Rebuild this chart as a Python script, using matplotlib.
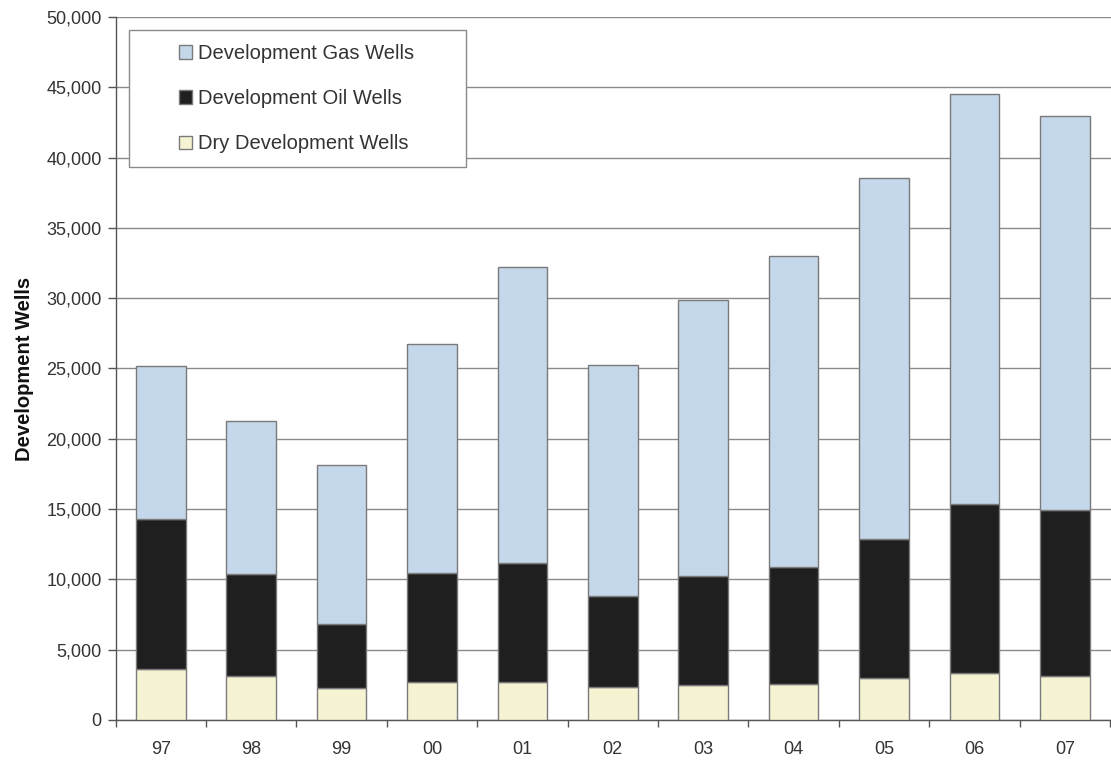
import matplotlib.pyplot as plt
import numpy as np
from matplotlib.patches import Rectangle

plt.rcParams.update({'font.size': 13})
plt.rc("font", family=["Liberation Sans", "DejaVu Sans"])

years = ['97', '98', '99', '00', '01', '02', '03', '04', '05', '06', '07']
dry_wells = [3630, 3130, 2280, 2700, 2700, 2370, 2490, 2580, 2960, 3320, 3110]
oil_wells = [10670, 7250, 4550, 7750, 8470, 6450, 7750, 8300, 9910, 12040, 11830]
gas_wells = [10880, 10880, 11310, 16290, 21050, 16430, 19630, 22120, 25670, 29160, 28020]

series_names = ['Development Gas Wells', 'Development Oil Wells', 'Dry Development Wells']
c_gas, c_oil, c_dry = '#c5d7ea', '#1f1f1f', '#f6f3d3'
edge = '#7a7a7a'

fig = plt.figure(figsize=(11.11, 7.61), dpi=100)
ax = fig.add_axes([115.5 / 1111, 41 / 761, 1 - 115.5 / 1111, 703 / 761])

x = np.arange(len(years))
dry = np.array(dry_wells)
oil = np.array(oil_wells)
gas = np.array(gas_wells)
w = 0.55
b_dry = ax.bar(x, dry, width=w, color=c_dry, edgecolor=edge, linewidth=1, zorder=3)
b_oil = ax.bar(x, oil, width=w, bottom=dry, color=c_oil, edgecolor=edge, linewidth=1, zorder=3)
b_gas = ax.bar(x, gas, width=w, bottom=dry + oil, color=c_gas, edgecolor=edge, linewidth=1, zorder=3)

ax.set_xlim(-0.5, 10.51)
ax.set_ylim(0, 50000)
ax.set_yticks(np.arange(0, 50001, 5000))
ax.set_yticklabels([f'{v:,}' for v in range(0, 50001, 5000)], color='#333333')
ax.yaxis.grid(True, color='#8a8a8a', linewidth=1, zorder=0)
ax.set_axisbelow(True)

ax.set_xticks(x)
ax.set_xticklabels(years, color='#333333')
ax.set_xticks(np.arange(-0.5, 10.6, 1), minor=True)
ax.tick_params(axis='x', which='major', length=0, pad=15)
ax.tick_params(axis='x', which='minor', length=5, color='#555555', width=1)
ax.tick_params(axis='y', length=6, color='#555555', width=1, pad=4)

for s in ['top', 'right']:
    ax.spines[s].set_visible(False)
for s in ['left', 'bottom']:
    ax.spines[s].set_color('#555555')
    ax.spines[s].set_linewidth(1)

ax.set_ylabel('Development Wells', fontweight='bold', fontsize=14.5, labelpad=9, color='#111111')

# legend box
box = Rectangle((129 / 1111, 1 - 167 / 761), (466 - 129) / 1111, (167 - 30) / 761,
                transform=fig.transFigure, facecolor='white', edgecolor='#8a8a8a',
                linewidth=1, zorder=5)
fig.patches.append(box)
leg = fig.legend([b_gas, b_oil, b_dry], series_names, loc='upper left',
                 bbox_to_anchor=(179 / 1111, 1 - 44 / 761), frameon=False,
                 handlelength=0.65, handleheight=0.65, handletextpad=0.3,
                 labelspacing=1.3, fontsize=14.5, borderpad=0, borderaxespad=0)
for t in leg.get_texts():
    t.set_color('#333333')
leg.set_zorder(6)

fig.savefig('out.png', dpi=100, facecolor='white')
